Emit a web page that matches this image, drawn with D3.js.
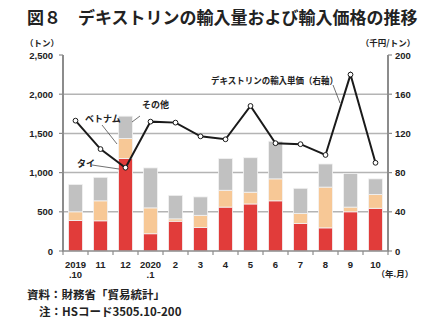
<!DOCTYPE html>
<html>
<head>
<meta charset="utf-8">
<script src="https://cdn.jsdelivr.net/npm/d3@7"></script>
<style>
  body { margin: 0; background: #fff; }
  svg text { font-family: "Noto Sans CJK JP", "Noto Sans", sans-serif; fill: #222; }
  svg text.num { font-family: "Liberation Sans", Arial, sans-serif; }
</style>
</head>
<body>
<script>
// chart data
var months = ["2019\n.10", "11", "12", "2020\n.1", "2", "3", "4", "5", "6", "7", "8", "9", "10"];
var thai    = [390, 385, 1180, 220, 380, 300, 560, 600, 640, 350, 295, 500, 545];
var vietnam = [110, 255, 255, 330, 30, 155, 215, 150, 280, 130, 520, 60, 175];
var others  = [350, 300, 285, 510, 300, 235, 405, 440, 480, 320, 295, 430, 200];
var price   = [133, 104, 85, 132, 131, 117, 114, 148, 110, 109, 98, 180, 90];
var leftTicks = [0, 500, 1000, 1500, 2000, 2500];
var rightTicks = [0, 40, 80, 120, 160, 200];

function main() {
    var width = 432, height = 328;
    var svg = d3.select("body").append("svg")
        .attr("width", width)
        .attr("height", height);

    var left = 63, right = 388, top = 55, bottom = 251;

    var x = d3.scaleBand().domain(d3.range(months.length))
        .range([left, right]).paddingInner(0.44).paddingOuter(0.22);
    var yL = d3.scaleLinear().domain([0, 2500]).range([bottom, top]);
    var yR = d3.scaleLinear().domain([0, 200]).range([bottom, top]);

    // title
    svg.append("text").attr("x", 27).attr("y", 24)
        .attr("font-size", 17).attr("font-weight", "bold")
        .text("図８　デキストリンの輸入量および輸入価格の推移");

    // gridlines
    svg.append("g").selectAll("line")
        .data(leftTicks.filter(function (d) { return d > 0 && d < 2500; }))
        .join("line")
        .attr("x1", left).attr("x2", right)
        .attr("y1", function (d) { return yL(d); })
        .attr("y2", function (d) { return yL(d); })
        .attr("stroke", "#b4b4b4").attr("stroke-width", 1.5);

    // stacked bars
    var stackData = months.map(function (m, i) {
        return { i: i, thai: thai[i], vietnam: vietnam[i], others: others[i] };
    });
    var series = d3.stack().keys(["thai", "vietnam", "others"])(stackData);
    var colors = { thai: "#e13c3a", vietnam: "#f7c896", others: "#c1c1c1" };

    svg.append("g").selectAll("g")
        .data(series)
        .join("g")
        .attr("fill", function (s) { return colors[s.key]; })
        .selectAll("rect")
        .data(function (s) { return s; })
        .join("rect")
        .attr("x", function (d) { return x(d.data.i); })
        .attr("width", x.bandwidth())
        .attr("y", function (d) { return yL(d[1]); })
        .attr("height", function (d) { return yL(d[0]) - yL(d[1]); })
        .attr("stroke", "#f3f3f3").attr("stroke-width", 0.8);

    // axes
    var axisColor = "#8c8c8c";
    svg.append("line").attr("x1", left).attr("x2", left).attr("y1", top).attr("y2", bottom)
        .attr("stroke", axisColor).attr("stroke-width", 2);
    svg.append("line").attr("x1", right).attr("x2", right).attr("y1", top).attr("y2", bottom)
        .attr("stroke", axisColor).attr("stroke-width", 2);
    svg.append("line").attr("x1", left - 1).attr("x2", right + 1).attr("y1", bottom).attr("y2", bottom)
        .attr("stroke", axisColor).attr("stroke-width", 1.5);

    // left ticks + labels
    var gl = svg.append("g");
    gl.selectAll("line").data(leftTicks).join("line")
        .attr("x1", left - 4).attr("x2", left)
        .attr("y1", function (d) { return yL(d); }).attr("y2", function (d) { return yL(d); })
        .attr("stroke", axisColor).attr("stroke-width", 1.2);
    gl.selectAll("text").data(leftTicks).join("text")
        .attr("class", "num")
        .attr("x", 53).attr("y", function (d) { return yL(d) + 3.5; })
        .attr("text-anchor", "end").attr("font-size", 9.5).attr("font-weight", "bold")
        .text(function (d) { return d3.format(",")(d); });

    // right ticks + labels
    var gr = svg.append("g");
    gr.selectAll("line").data(rightTicks).join("line")
        .attr("x1", right).attr("x2", right + 4)
        .attr("y1", function (d) { return yR(d); }).attr("y2", function (d) { return yR(d); })
        .attr("stroke", axisColor).attr("stroke-width", 1.2);
    gr.selectAll("text").data(rightTicks).join("text")
        .attr("class", "num")
        .attr("x", 395).attr("y", function (d) { return yR(d) + 3.5; })
        .attr("font-size", 9.5).attr("font-weight", "bold")
        .text(function (d) { return d; });

    // unit labels
    svg.append("text").attr("x", 42).attr("y", 45.5).attr("text-anchor", "middle")
        .attr("font-size", 8.5).attr("font-weight", "bold").text("（トン）");
    svg.append("text").attr("x", 388).attr("y", 45.5).attr("text-anchor", "middle")
        .attr("font-size", 8.5).attr("font-weight", "bold").text("（千円/トン）");

    // x ticks between categories
    var step = x.step();
    var tickXs = d3.range(months.length + 1).map(function (i) {
        return i === 0 ? left : x(i - 1) + x.bandwidth() + (step - x.bandwidth()) / 2;
    });
    svg.append("g").selectAll("line").data(tickXs).join("line")
        .attr("x1", function (d) { return d; }).attr("x2", function (d) { return d; })
        .attr("y1", bottom).attr("y2", bottom + 4)
        .attr("stroke", axisColor).attr("stroke-width", 1.2);

    // x labels (two lines where needed)
    var xl = svg.append("g");
    months.forEach(function (m, i) {
        m.split("\n").forEach(function (p, k) {
            xl.append("text").attr("class", "num")
                .attr("x", x(i) + x.bandwidth() / 2)
                .attr("y", 267.5 + k * 10.8)
                .attr("text-anchor", "middle").attr("font-size", 9.5).attr("font-weight", "bold")
                .text(p);
        });
    });
    svg.append("text").attr("x", 395).attr("y", 277).attr("text-anchor", "middle")
        .attr("font-size", 8.5).attr("font-weight", "bold").text("（年.月）");

    // price line
    var line = d3.line()
        .x(function (d, i) { return x(i) + x.bandwidth() / 2; })
        .y(function (d) { return yR(d); });
    svg.append("path").datum(price)
        .attr("d", line).attr("fill", "none")
        .attr("stroke", "#1a1a1a").attr("stroke-width", 2);
    svg.append("g").selectAll("circle").data(price).join("circle")
        .attr("cx", function (d, i) { return x(i) + x.bandwidth() / 2; })
        .attr("cy", function (d) { return yR(d); })
        .attr("r", 2.4).attr("fill", "#fff")
        .attr("stroke", "#1a1a1a").attr("stroke-width", 1);

    // annotations
    var ann = svg.append("g");
    function leader(x1, y1, x2, y2) {
        ann.append("line").attr("x1", x1).attr("y1", y1).attr("x2", x2).attr("y2", y2)
            .attr("stroke", "#333").attr("stroke-width", 0.7);
    }
    function label(tx, ty, s, len) {
        var t = ann.append("text").attr("x", tx).attr("y", ty).attr("font-size", 9)
            .attr("font-weight", "bold").text(s);
        if (len) t.attr("textLength", len).attr("lengthAdjust", "spacingAndGlyphs");
    }
    label(211, 84, "デキストリンの輸入単価（右軸）", 127);
    leader(333, 85, 340, 103);
    label(142, 108, "その他");
    leader(140, 116, 132, 122);
    label(85, 122, "ベトナム");
    leader(102, 125, 117, 144);
    label(77, 167, "タイ");
    leader(92, 165, 119, 169);

    // source notes
    svg.append("text").attr("x", 27).attr("y", 299).attr("font-size", 11.5).attr("font-weight", "bold")
        .text("資料：財務省「貿易統計」");
    svg.append("text").attr("x", 39).attr("y", 316).attr("font-size", 11.5).attr("font-weight", "bold")
        .text("注：HSコード3505.10-200");
}

window.onload = main;
</script>
</body>
</html>
